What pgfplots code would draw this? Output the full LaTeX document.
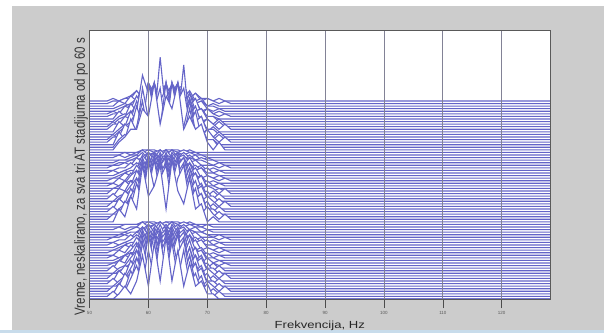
\documentclass[border=0pt]{standalone}
\usepackage{pgfplots}
\usepackage{pgfplotstable}
\pgfplotsset{compat=1.18}
\usepackage{fontspec}
\setmainfont{Liberation Sans}
\usepackage{graphicx}
\definecolor{bggray}{RGB}{204,204,204}
\definecolor{stripblue}{RGB}{200,220,235}
\definecolor{trace}{RGB}{100,100,200}
\definecolor{gridc}{RGB}{130,130,150}

\pgfplotstableread{
name 49 53 54 55 56 57 58 59 60 61 62 63 64 65 66 67 68 69 70 71 72 73 74 129
t0 0 0 0 2 5 2 7 17 5 22 7 24 7 19 5 14 5 7 2 2 0 0 0 0
t1 0 0 2 0 2 7 12 5 18 7 23 9 21 7 18 5 9 2 5 0 2 0 0 0
t2 0 0 0 4 2 9 4 20 9 13 20 4 22 11 7 15 4 7 0 2 0 0 0 0
t3 0 0 2 2 7 4 13 7 22 11 15 20 4 15 20 7 11 2 4 2 0 2 0 0
t4 0 0 0 2 4 6 6 13 11 21 8 17 13 21 6 11 6 8 2 0 2 0 0 0
t5 0 0 0 2 4 2 6 14 4 18 6 20 6 16 4 12 4 6 2 2 0 0 0 0
t6 0 0 2 0 2 6 10 4 15 6 19 8 17 6 15 4 8 2 4 0 2 0 0 0
t7 0 0 0 4 2 8 4 17 8 11 17 4 19 10 6 13 4 6 0 2 0 0 0 0
t8 0 0 2 2 5 4 11 5 18 9 13 16 4 13 16 5 9 2 4 2 0 2 0 0
t9 0 0 0 2 3 5 5 10 9 17 7 14 10 17 5 9 5 7 2 0 2 0 0 0
t10 0 0 0 2 3 2 5 11 3 14 5 16 5 13 3 10 3 5 2 2 0 0 0 0
t11 0 0 2 0 2 5 8 3 12 5 15 6 14 5 12 3 6 2 3 0 2 0 0 0
t12 0 0 0 3 2 6 3 14 6 9 14 3 15 8 5 11 3 5 0 2 0 0 0 0
t13 0 0 1 1 4 3 8 4 14 7 10 13 3 10 13 4 7 1 3 1 0 1 0 0
t14 0 0 0 1 3 4 4 8 7 13 5 10 8 13 4 7 4 5 1 0 1 0 0 0
t15 0 0 0 1 2 1 4 8 2 11 4 12 4 10 2 7 2 4 1 1 0 0 0 0
t16 0 0 1 0 1 3 6 2 9 3 11 4 10 3 9 2 4 1 2 0 1 0 0 0
t17 0 0 0 2 1 4 2 10 4 7 10 2 11 6 3 8 2 3 0 1 0 0 0 0
t18 0 0 1 1 3 2 6 3 10 5 7 9 2 7 9 3 5 1 2 1 0 1 0 0
t19 0 0 0 1 2 3 3 5 5 9 4 7 5 9 3 5 3 4 1 0 1 0 0 0
t20 0 0 0 1 2 1 2 6 2 7 2 8 2 6 2 5 2 2 1 1 0 0 0 0
t21 0 0 1 0 1 2 4 2 6 2 8 3 7 2 6 2 3 1 2 0 1 0 0 0
t22 0 0 0 1 1 3 1 6 3 4 6 1 7 4 2 5 1 2 0 1 0 0 0 0
t23 0 0 1 1 2 1 3 2 6 3 4 5 1 4 5 2 3 1 1 1 0 1 0 0
t24 0 0 0 1 1 2 2 3 3 5 2 4 3 5 2 3 2 2 1 0 1 0 0 0
t25 0 0 0 0 1 0 1 3 1 4 1 4 1 3 1 2 1 1 0 0 0 0 0 0
t26 0 0 0 0 0 1 2 1 3 1 4 2 4 1 3 1 2 0 1 0 0 0 0 0
t27 0 0 0 1 0 1 1 3 1 2 3 1 3 2 1 2 1 1 0 0 0 0 0 0
t28 0 0 0 0 1 1 1 1 2 1 1 2 1 1 2 1 1 0 1 0 0 0 0 0
t29 0 0 0 0 0 0 0 1 1 1 0 1 1 1 0 1 0 0 0 0 0 0 0 0
t30 0 0 0 5 2 10 5 22 10 14 22 5 24 12 7 17 5 7 0 2 0 0 0 0
t31 0 0 2 2 7 5 14 7 23 12 16 21 5 16 21 7 12 2 5 2 0 2 0 0
t32 0 0 0 2 4 7 7 13 11 22 9 18 13 22 7 11 7 9 2 0 2 0 0 0
t33 0 0 0 2 4 2 6 15 4 19 6 21 6 17 4 13 4 6 2 2 0 0 0 0
t34 0 0 2 0 2 6 10 4 16 6 20 8 18 6 16 4 8 2 4 0 2 0 0 0
t35 0 0 0 4 2 8 4 18 8 12 18 4 20 10 6 14 4 6 0 2 0 0 0 0
t36 0 0 2 2 6 4 11 6 19 10 13 17 4 13 17 6 10 2 4 2 0 2 0 0
t37 0 0 0 2 4 5 5 11 9 18 7 14 11 18 5 9 5 7 2 0 2 0 0 0
t38 0 0 0 2 3 2 5 12 3 15 5 17 5 14 3 10 3 5 2 2 0 0 0 0
t39 0 0 2 0 2 5 8 3 13 5 16 6 14 5 13 3 6 2 3 0 2 0 0 0
t40 0 0 0 3 2 6 3 14 6 9 14 3 15 8 5 11 3 5 0 2 0 0 0 0
t41 0 0 2 2 5 3 9 5 15 8 11 14 3 11 14 5 8 2 3 2 0 2 0 0
t42 0 0 0 1 3 4 4 8 7 14 6 11 8 14 4 7 4 6 1 0 1 0 0 0
t43 0 0 0 1 3 1 4 9 3 12 4 13 4 10 3 8 3 4 1 1 0 0 0 0
t44 0 0 1 0 1 4 6 2 10 4 12 5 11 4 10 2 5 1 2 0 1 0 0 0
t45 0 0 0 2 1 4 2 10 4 7 10 2 11 6 3 8 2 3 0 1 0 0 0 0
t46 0 0 1 1 3 2 6 3 10 5 7 9 2 7 9 3 5 1 2 1 0 1 0 0
t47 0 0 0 1 2 3 3 6 5 10 4 8 6 10 3 5 3 4 1 0 1 0 0 0
t48 0 0 0 1 2 1 3 6 2 8 3 9 3 7 2 5 2 3 1 1 0 0 0 0
t49 0 0 1 0 1 2 4 2 6 2 8 3 7 2 6 2 3 1 2 0 1 0 0 0
t50 0 0 0 1 1 3 1 6 3 4 6 1 7 4 2 5 1 2 0 1 0 0 0 0
t51 0 0 1 1 2 1 4 2 6 3 4 5 1 4 5 2 3 1 1 1 0 1 0 0
t52 0 0 0 1 1 2 2 3 3 5 2 4 3 5 2 3 2 2 1 0 1 0 0 0
t53 0 0 0 1 1 1 2 4 1 4 2 5 2 4 1 3 1 2 1 1 0 0 0 0
t54 0 0 0 0 0 1 2 1 3 1 4 2 4 1 3 1 2 0 1 0 0 0 0 0
t55 0 0 0 1 0 1 1 3 1 2 3 1 3 2 1 2 1 1 0 0 0 0 0 0
t56 0 0 0 0 1 0 1 1 2 1 1 2 0 1 2 1 1 0 0 0 0 0 0 0
t57 0 0 0 0 0 0 0 1 1 1 0 1 1 1 0 1 0 0 0 0 0 0 0 0
t58 0 0 0 3 5 8 8 16 13 26 10 21 16 26 8 13 8 10 3 0 3 0 0 0
t59 0 0 0 3 5 3 8 18 5 23 8 25 8 20 5 15 5 8 3 3 0 0 0 0
t60 0 0 0 5 2 10 5 22 10 14 22 5 24 12 7 17 5 7 0 2 0 0 0 0
t61 0 0 2 2 7 5 14 7 23 12 16 21 5 16 21 7 12 2 5 2 0 2 0 0
t62 0 0 2 0 2 7 11 25 18 7 32 9 20 7 29 4 9 2 4 0 2 0 0 0
t63 0 0 0 2 4 6 6 13 11 21 8 17 13 21 6 11 6 8 2 0 2 0 0 0
t64 0 0 0 2 4 2 6 14 4 18 6 20 6 16 4 12 4 6 2 2 0 0 0 0
t65 0 0 0 4 2 8 4 17 8 11 17 4 19 10 6 13 4 6 0 2 0 0 0 0
t66 0 0 2 2 5 4 11 5 18 9 13 16 4 13 16 5 9 2 4 2 0 2 0 0
t67 0 0 2 0 2 5 9 3 14 5 17 7 15 5 14 3 7 2 3 0 2 0 0 0
t68 0 0 0 2 3 5 5 10 8 16 6 13 10 16 5 8 5 6 2 0 2 0 0 0
t69 0 0 0 2 3 2 5 11 3 14 5 15 5 12 3 9 3 5 2 2 0 0 0 0
t70 0 0 0 3 1 6 3 13 6 8 13 3 14 7 4 10 3 4 0 1 0 0 0 0
t71 0 0 1 1 4 3 8 4 13 7 9 12 3 9 12 4 7 1 3 1 0 1 0 0
t72 0 0 1 0 1 4 6 2 10 4 12 5 11 4 10 2 5 1 2 0 1 0 0 0
t73 0 0 0 1 2 3 3 7 6 11 4 9 7 11 3 6 3 4 1 0 1 0 0 0
t74 0 0 0 1 2 1 3 7 2 9 3 10 3 8 2 6 2 3 1 1 0 0 0 0
t75 0 0 0 2 1 4 2 8 4 5 8 2 9 5 3 6 2 3 0 1 0 0 0 0
t76 0 0 1 1 2 2 5 2 8 4 6 7 2 6 7 2 4 1 2 1 0 1 0 0
t77 0 0 1 0 1 2 4 1 6 2 7 3 6 2 6 1 3 1 1 0 1 0 0 0
}\rawdata
\pgfplotstabletranspose[colnames from=name]{\specdata}{\rawdata}

\begin{document}
\begin{tikzpicture}
\path[use as bounding box] (0pt,0pt) rectangle (604pt,333pt);
\fill[white] (0pt,0pt) rectangle (604pt,333pt);
\fill[bggray] (11.5pt,3pt) rectangle (604pt,327pt);
\fill[stripblue] (0pt,0pt) rectangle (604pt,3pt);
\begin{axis}[
  at={(89.5pt,34pt)}, anchor=south west,
  scale only axis, width=460.5pt, height=269pt,
  xmin=50, xmax=128.2, ymin=0, ymax=104.6,
  axis background/.style={fill=white},
  axis on top,
  axis line style={gray!70!black, line width=0.5pt},
  xtick={50,60,...,120}, ytick=\empty,
  xtick pos=bottom, tick align=outside,
  major tick length=9pt,
  tick style={gray!60!black, line width=0.6pt},
  xmajorgrids, grid style={gridc, line width=0.7pt},
  /pgf/number format/assume math mode=true,
  xticklabel style={font=\fontsize{4.5}{5}\selectfont, text=gray!70!black},
  xlabel={\scalebox{1.27}[1]{Frekvencija, Hz}},
  xlabel style={at={(axis description cs:0.5,0)}, anchor=base, yshift=-29.5pt, font=\fontsize{10.3}{12}\selectfont, text=black!85},
  ylabel={\scalebox{1}[1.28]{Vreme, neskalirano, za sva tri AT stadijuma od po 60 s}},
  ylabel style={at={(axis description cs:-0.0185,0.455)}, anchor=center, font=\fontsize{11.5}{13}\selectfont, text=black!80},
]
\pgfplotsinvokeforeach{77,76,...,0}{
  \addplot[draw=trace, line width=1.1pt, fill=white, line join=miter] table[x=colnames, y expr={\thisrow{t#1}+#1}] {\specdata} \closedcycle;
}
\end{axis}
\end{tikzpicture}
\end{document}
